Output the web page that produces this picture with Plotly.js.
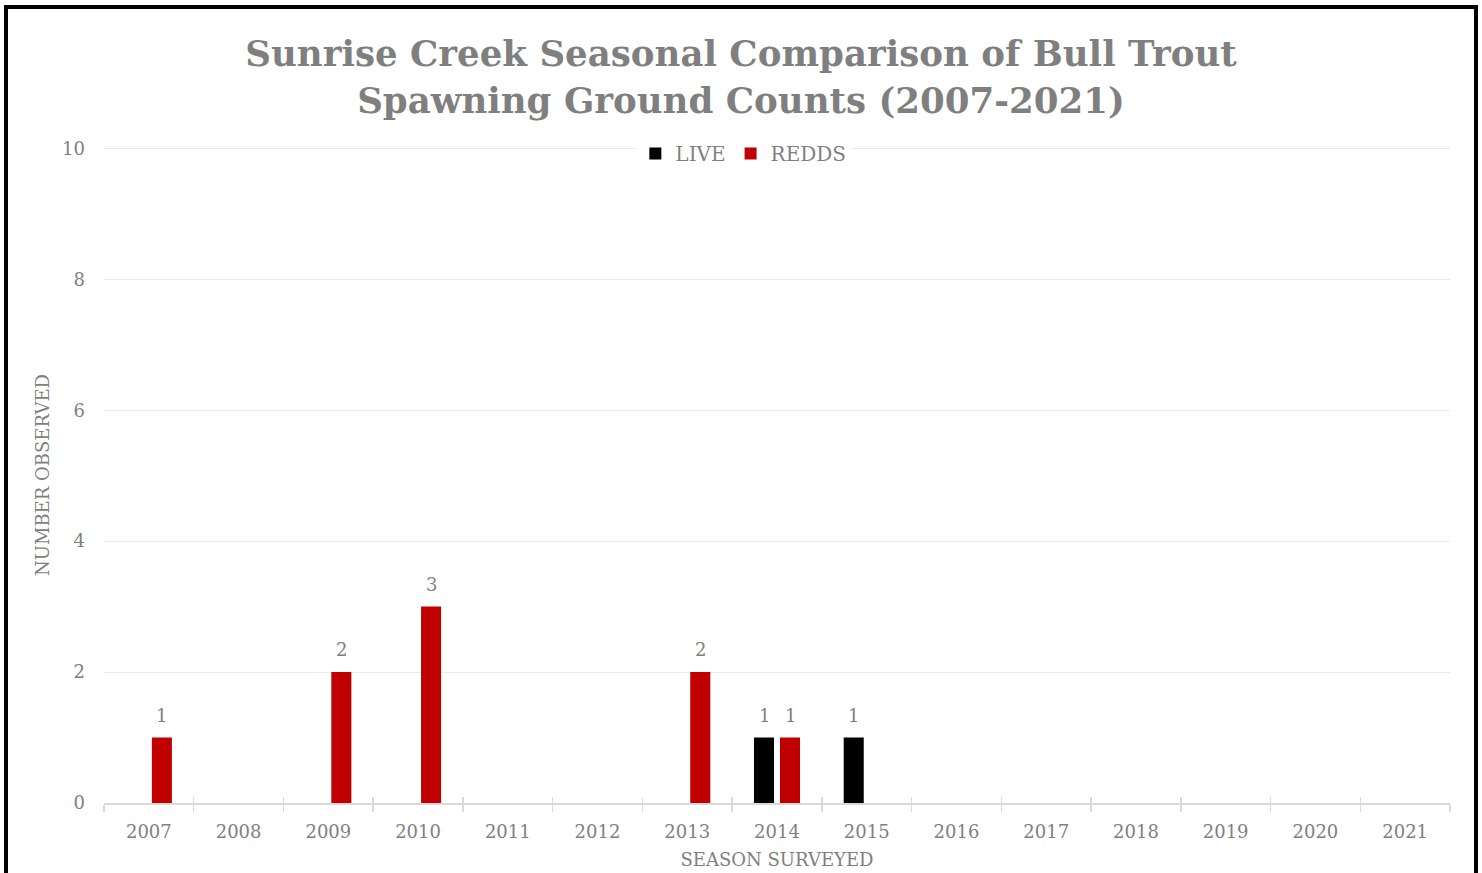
<!DOCTYPE html>
<html>
<head>
<meta charset="utf-8">
<script src="https://cdn.plot.ly/plotly-3.0.1.min.js"></script>
<style>
html,body{margin:0;padding:0;background:#fff;overflow:hidden;}
#chart{position:absolute;left:0;top:0;width:1482px;height:873px;}
#frame{position:absolute;left:4px;top:5px;width:1466px;height:900px;border:4px solid #000;pointer-events:none;}
</style>
</head>
<body>
<div id="chart"></div>
<div id="frame"></div>
<script>
const seasons = ["2007","2008","2009","2010","2011","2012","2013","2014","2015","2016","2017","2018","2019","2020","2021"];
const liveCounts = [0,0,0,0,0,0,0,1,1,0,0,0,0,0,0];
const reddCounts = [1,0,2,3,0,0,2,1,0,0,0,0,0,0,0];
const yTicks = [0,2,4,6,8,10];

const gray = "#7f7f7f";
const serif = "DejaVu Serif, Liberation Serif, serif";
const xr = [-0.5, seasons.length - 0.5];

const traces = [
  {type:"bar", name:"LIVE", x:seasons, y:liveCounts, marker:{color:"#000000"}, hoverinfo:"x+y"},
  {type:"bar", name:"REDDS", x:seasons, y:reddCounts, marker:{color:"#C00000"}, hoverinfo:"x+y"},
  {type:"bar", x:seasons, y:seasons.map(()=>0), xaxis:"x2", showlegend:false, hoverinfo:"skip", marker:{opacity:0}}
];

const annotations = [];
[[liveCounts,-13],[reddCounts,13]].forEach(([vals,shift])=>{
  vals.forEach((v,i)=>{
    if(v>0) annotations.push({x:i, y:v, xref:"x", yref:"y", text:String(v),
      showarrow:false, yanchor:"bottom", xshift:shift, yshift:10,
      font:{family:serif, size:18, color:gray}});
  });
});

const layout = {
  width:1482, height:873,
  margin:{l:104, r:32, t:147, b:70},
  paper_bgcolor:"#fff", plot_bgcolor:"#fff",
  font:{family:serif, color:gray, size:18},
  title:{text:"<b>Sunrise Creek Seasonal Comparison of Bull Trout<br>Spawning Ground Counts (2007-2021)</b>",
    x:0.5, xref:"container", xanchor:"center", y:0.924, yref:"container", yanchor:"middle",
    font:{family:serif, size:35.6, color:gray}},
  barmode:"group", bargap:0.42, bargroupgap:0.23,
  showlegend:true,
  legend:{orientation:"h", x:0.475, xanchor:"center", y:0.99, yanchor:"middle",
    bgcolor:"#fff", font:{family:serif, size:20, color:gray}, itemwidth:30, traceorder:"normal"},
  xaxis:{type:"category", categoryorder:"array", categoryarray:seasons, range:xr,
    tickson:"boundaries", ticks:"outside", ticklen:7, tickcolor:"#d9d9d9", tickwidth:1.5,
    showline:true, linecolor:"#d9d9d9", linewidth:1.5, showgrid:false, zeroline:false,
    ticklabelstandoff:12,
    tickfont:{family:serif, size:18, color:gray},
    title:{text:"SEASON SURVEYED", standoff:12, font:{family:serif, size:18, color:gray}}},
  xaxis2:{type:"category", categoryorder:"array", categoryarray:seasons, range:xr,
    overlaying:"x", anchor:"y", side:"bottom", tickson:"boundaries", ticks:"inside", ticklen:6,
    tickcolor:"#d9d9d9", tickwidth:1.5, showticklabels:false, showgrid:false, showline:false, zeroline:false},
  yaxis:{range:[0,10.02], tickvals:yTicks, ticktext:yTicks.map(String), showgrid:true, gridcolor:"#e9e9e9", gridwidth:1,
    zeroline:false, showline:false, ticks:"", ticklabelstandoff:18, tickfont:{family:serif, size:18, color:gray},
    title:{text:"NUMBER OBSERVED", standoff:7, font:{family:serif, size:18, color:gray}}},
  annotations:annotations
};

Plotly.newPlot("chart", traces, layout, {displayModeBar:false, staticPlot:true});
</script>
</body>
</html>
